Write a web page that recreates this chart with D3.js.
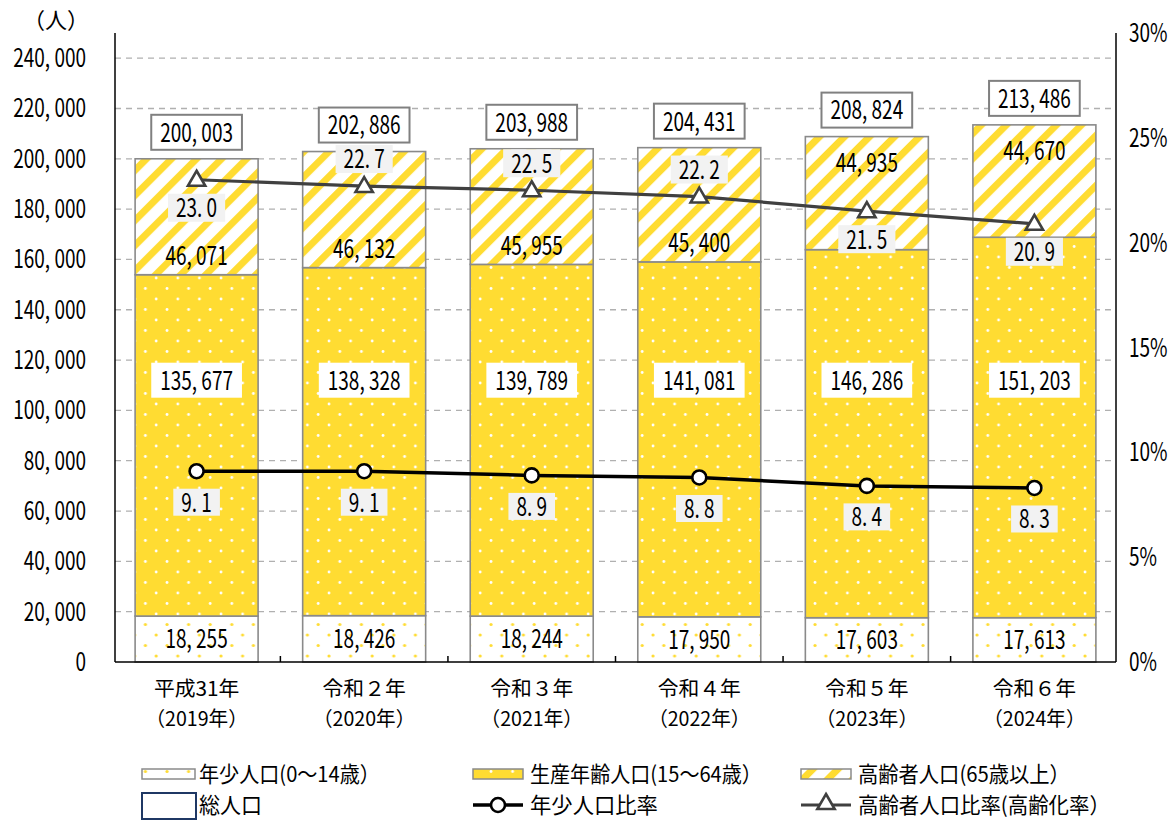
<!DOCTYPE html>
<html lang="ja">
<head>
<meta charset="utf-8">
<script src="https://cdn.jsdelivr.net/npm/d3@7"></script>
<style>
  html, body { margin: 0; padding: 0; background: #fff; }
  svg { display: block; font-family: "Noto Sans CJK JP", "Noto Sans", sans-serif; }
  text { fill: #000; }
</style>
</head>
<body>
<svg id="chart" width="1172" height="820"></svg>
<script>
// ---- data ----
const categories = ["平成31年", "令和２年", "令和３年", "令和４年", "令和５年", "令和６年"];
const yearLabels = ["（2019年）", "（2020年）", "（2021年）", "（2022年）", "（2023年）", "（2024年）"];
const youngPop = [18255, 18426, 18244, 17950, 17603, 17613];
const workingPop = [135677, 138328, 139789, 141081, 146286, 151203];
const elderlyPop = [46071, 46132, 45955, 45400, 44935, 44670];
const totalPop = [200003, 202886, 203988, 204431, 208824, 213486];
const youngRate = [9.1, 9.1, 8.9, 8.8, 8.4, 8.3];
const elderlyRate = [23.0, 22.7, 22.5, 22.2, 21.5, 20.9];
const leftTickValues = [0, 20000, 40000, 60000, 80000, 100000, 120000, 140000, 160000, 180000, 200000, 220000, 240000];
const rightTickValues = [0, 5, 10, 15, 20, 25, 30];
const legendNames = ["年少人口(0～14歳）", "生産年齢人口(15～64歳）", "高齢者人口(65歳以上）",
                     "総人口", "年少人口比率", "高齢者人口比率(高齢化率）"];

// label placement for the ageing-rate values (true = above the marker)
const elderlyRateAbove = [false, true, true, true, false, false];

// ---- layout ----
const svg = d3.select("#chart");
const plot = { left: 115, right: 1116, top: 33, bottom: 662 };
const YELLOW = "#FFDC32";
const GREY = "#8a8a8a";

const x = d3.scaleBand().domain(categories).range([plot.left, plot.right])
  .paddingInner(0.266).paddingOuter(0.12);
const y = d3.scaleLinear().domain([0, 250000]).range([plot.bottom, plot.top]);
const yr = d3.scaleLinear().domain([0, 30]).range([plot.bottom, plot.top]);

const fmt = v => d3.format(",")(v).replace(/,/g, ", ");

// ---- patterns ----
const defs = svg.append("defs");
function dotPattern(id, bg, dot, r) {
  const p = defs.append("pattern").attr("id", id).attr("patternUnits", "userSpaceOnUse")
    .attr("width", 21.6).attr("height", 21);
  p.append("rect").attr("width", 21.6).attr("height", 21).attr("fill", bg);
  p.append("circle").attr("cx", 5).attr("cy", 5).attr("r", r).attr("fill", dot);
  p.append("circle").attr("cx", 15.8).attr("cy", 15.5).attr("r", r).attr("fill", dot);
}
dotPattern("dotsWorking", YELLOW, "#fff", 1.4);
dotPattern("dotsYoung", "#fff", YELLOW, 1.6);
const stripe = defs.append("pattern").attr("id", "stripes").attr("patternUnits", "userSpaceOnUse")
  .attr("width", 17.7).attr("height", 17.7).attr("patternTransform", "rotate(45)");
stripe.append("rect").attr("width", 17.7).attr("height", 17.7).attr("fill", "#fff");
stripe.append("rect").attr("width", 7).attr("height", 17.7).attr("fill", YELLOW);

// condensed text helper: returns group + text
function ctext(parent, cx, cy, str, size, sx, anchor) {
  const g = parent.append("g").attr("transform", `translate(${cx},${cy})`);
  const t = g.append("text").attr("transform", `scale(${sx},1)`)
    .attr("text-anchor", anchor || "middle").attr("dy", "0.36em")
    .style("font-size", size + "px").text(str);
  return { g, t, sx };
}
function boxed(lbl, padX, h, fill, stroke, sw) {
  const w = lbl.t.node().getBBox().width * lbl.sx + padX * 2;
  lbl.g.insert("rect", "text").attr("x", -w / 2).attr("y", -h / 2)
    .attr("width", w).attr("height", h).attr("fill", fill)
    .attr("stroke", stroke || "none").attr("stroke-width", sw || 0);
}

// ---- grid ----
svg.append("g").selectAll("line").data(leftTickValues.filter(d => d > 0)).join("line")
  .attr("x1", plot.left).attr("x2", plot.right)
  .attr("y1", d => y(d)).attr("y2", d => y(d))
  .attr("stroke", "#b0b0b0").attr("stroke-width", 1.3).attr("stroke-dasharray", "6,5");

// ---- bars ----
const rows = categories.map((c, i) => ({
  c, i, young: youngPop[i], working: workingPop[i], elderly: elderlyPop[i], total: totalPop[i]
}));
const stack = d3.stack().keys(["young", "working", "elderly"])(rows);
const fills = { young: "url(#dotsYoung)", working: "url(#dotsWorking)", elderly: "url(#stripes)" };
const barG = svg.append("g");
stack.forEach(layer => {
  barG.append("g").selectAll("rect").data(layer).join("rect")
    .attr("x", d => x(d.data.c)).attr("width", x.bandwidth())
    .attr("y", d => y(d[1])).attr("height", d => y(d[0]) - y(d[1]))
    .attr("fill", fills[layer.key]).attr("stroke", GREY).attr("stroke-width", 1.6);
});

// ---- axes ----
const axG = svg.append("g").attr("stroke", "#000").attr("stroke-width", 1.5);
axG.append("line").attr("x1", plot.left).attr("x2", plot.left).attr("y1", plot.top).attr("y2", plot.bottom);
axG.append("line").attr("x1", plot.right).attr("x2", plot.right).attr("y1", plot.top).attr("y2", plot.bottom);
axG.append("line").attr("x1", plot.left).attr("x2", plot.right).attr("y1", plot.bottom).attr("y2", plot.bottom);
// category separators on the baseline
axG.selectAll(".sep").data(categories.slice(1)).join("line")
  .attr("x1", d => x(d) - x.step() * x.paddingInner() / 2)
  .attr("x2", d => x(d) - x.step() * x.paddingInner() / 2)
  .attr("y1", plot.bottom - 6).attr("y2", plot.bottom);

const tickG = svg.append("g");
leftTickValues.forEach(v => ctext(tickG, 86, y(v), d3.format(",")(v).replace(/,/g, ", "), 25, 0.76, "end"));
rightTickValues.forEach(v => ctext(tickG, 1129, yr(v), v + "%", 25, 0.76, "start"));
ctext(tickG, 56, 20, "（人）", 22, 1, "middle");

categories.forEach((c, i) => {
  const cx = x(c) + x.bandwidth() / 2;
  ctext(tickG, cx, 689, c, 20, 1.04, "middle");
  ctext(tickG, cx, 718.5, yearLabels[i], 20, 0.98, "middle");
});

// ---- rate lines ----
const cxOf = i => x(categories[i]) + x.bandwidth() / 2;
const lineGen = d3.line().x((d, i) => cxOf(i)).y(d => yr(d));
svg.append("path").datum(elderlyRate).attr("d", lineGen)
  .attr("fill", "none").attr("stroke", "#404040").attr("stroke-width", 3.2);
svg.append("path").datum(youngRate).attr("d", lineGen)
  .attr("fill", "none").attr("stroke", "#000").attr("stroke-width", 3.5);
const tri = d3.symbol().type(d3.symbolTriangle).size(130);
svg.append("g").selectAll("path").data(elderlyRate).join("path")
  .attr("d", tri).attr("transform", (d, i) => `translate(${cxOf(i)},${yr(d) + 1})`)
  .attr("fill", "#fff").attr("stroke", "#404040").attr("stroke-width", 2.6);
svg.append("g").selectAll("circle").data(youngRate).join("circle")
  .attr("cx", (d, i) => cxOf(i)).attr("cy", d => yr(d)).attr("r", 7)
  .attr("fill", "#fff").attr("stroke", "#000").attr("stroke-width", 2.6);

// ---- value labels ----
const lblG = svg.append("g");
const LS = 26, LX = 0.73;
rows.forEach((r, i) => {
  const cx = cxOf(i);
  // total
  boxed(ctext(lblG, cx, y(r.total) - 26.5, fmt(r.total), LS, LX), 9, 35, "#fff", "#808080", 2);
  // young population
  ctext(lblG, cx, (y(0) + y(r.young)) / 2, fmt(r.young), LS, LX);
  // working population
  boxed(ctext(lblG, cx, y(112000), fmt(r.working), LS, LX), 9, 35, "#fff");
  // elderly population: placed away from the rate marker
  const top = y(r.total), bot = y(r.young + r.working);
  const markerLow = yr(elderlyRate[i]) > (top + bot) / 2;
  ctext(lblG, cx, markerLow ? top + 26 : bot - 19, fmt(r.elderly), LS, LX);
  // ageing rate
  const ey = yr(elderlyRate[i]) + (elderlyRateAbove[i] ? -27 : 28);
  boxed(ctext(lblG, cx, ey, elderlyRate[i].toFixed(1).replace(".", ". "), LS, LX), 8, 28, "#f2f2f2");
  // child rate
  boxed(ctext(lblG, cx, yr(youngRate[i]) + 31, youngRate[i].toFixed(1).replace(".", ". "), LS, LX), 8, 27, "#f2f2f2");
});

// ---- legend ----
const lg = svg.append("g");
const legendRow1 = 774, legendRow2 = 805;
lg.append("rect").attr("x", 142).attr("y", 769).attr("width", 53).attr("height", 10)
  .attr("fill", "url(#dotsYoung)").attr("stroke", GREY).attr("stroke-width", 1.5);
lg.append("rect").attr("x", 473).attr("y", 769).attr("width", 50).attr("height", 10)
  .attr("fill", "url(#dotsWorking)").attr("stroke", GREY).attr("stroke-width", 1.5);
lg.append("rect").attr("x", 801).attr("y", 769).attr("width", 50).attr("height", 10)
  .attr("fill", "url(#stripes)").attr("stroke", GREY).attr("stroke-width", 1.5);
lg.append("rect").attr("x", 142).attr("y", 793).attr("width", 54).attr("height", 26)
  .attr("fill", "#fff").attr("stroke", "#1F3864").attr("stroke-width", 2);
lg.append("line").attr("x1", 473).attr("x2", 523).attr("y1", legendRow2).attr("y2", legendRow2)
  .attr("stroke", "#000").attr("stroke-width", 3.5);
lg.append("circle").attr("cx", 498).attr("cy", legendRow2).attr("r", 7)
  .attr("fill", "#fff").attr("stroke", "#000").attr("stroke-width", 2.6);
lg.append("line").attr("x1", 801).attr("x2", 851).attr("y1", legendRow2).attr("y2", legendRow2)
  .attr("stroke", "#404040").attr("stroke-width", 3.2);
lg.append("path").attr("d", tri).attr("transform", `translate(826,${legendRow2 - 1})`)
  .attr("fill", "#fff").attr("stroke", "#404040").attr("stroke-width", 2.6);

// legend text: left edge, row, and the width each entry is fitted into
const legendSlots = [
  [199, legendRow1, 181], [530, legendRow1, 232], [858, legendRow1, 212],
  [199, legendRow2, 63], [530, legendRow2, 128], [858, legendRow2, 252]
];
legendNames.forEach((s, i) => {
  const [lx, ly, w] = legendSlots[i];
  const lbl = ctext(lg, lx, ly, s, 21.5, 1, "start");
  const natural = lbl.t.node().getBBox().width;
  lbl.t.attr("transform", `scale(${w / natural},1)`);
});
</script>
</body>
</html>
